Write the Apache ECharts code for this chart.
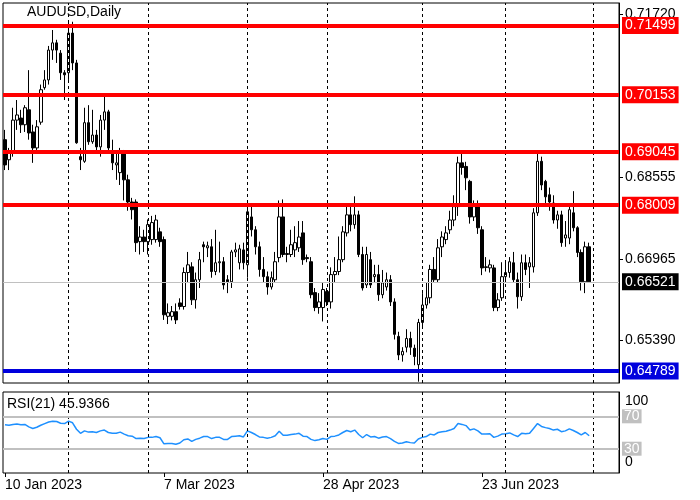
<!DOCTYPE html>
<html><head><meta charset="utf-8">
<script src="https://cdn.jsdelivr.net/npm/echarts@6/dist/echarts.min.js"></script>
<style>html,body{margin:0;padding:0;background:#fff}#c{width:700px;height:500px}</style>
</head><body><div id="c"></div>
<script>
// OHLC per trading day starting 10 Jan 2023
const opens = [.6928,.6889,.6902,.6966,.6970,.6957,.6986,.6943,.6912,.6962,.7029,.7044,.7102,.7116,.7096,.7058,.7058,.7135,.7077,.6895,.6886,.6961,.6924,.6937,.6914,.6966,.6982,.6904,.6879,.6864,.6904,.6850,.6807,.6807,.6730,.6739,
.6730,.6734,.6734,.6749,.6734,.6585,.6585,.6594,.6611,.6604,.6670,.6681,.6617,.6656,.6724,.6718,.6720,.6672,.6689,.6691,.6656,.6652,.6710,.6689,.6714,.6685,.6778,.6753,.6720,.6676,.6662,.6642,.6656,.6699,.6778,.6705,.6705,
.6714,.6718,.6747,.6699,.6691,.6631,.6602,.6602,.6633,.6613,.6666,.6672,.6695,.6747,.6782,.6763,.6782,.6705,.6646,.6695,.6662,.6666,.6627,.6642,.6656,.6613,.6546,.6510,.6525,.6542,.6523,.6491,.6573,.6607,.6621,.6676,.6656,
.6720,.6734,.6753,.6772,.6798,.6883,.6876,.6847,.6778,.6798,.6753,.6681,.6679,.6679,.6602,.6621,.6662,.6670,.6689,.6656,.6623,.6689,.6681,.6681,.6786,.6886,.6847,.6821,.6805,.6772,.6782,.6737,.6737,.6786,.6757,.6709,.6652,.6720];
const closes = [.6879,.6902,.6966,.6976,.6957,.6990,.6941,.6912,.6953,.7025,.7044,.7102,.7116,.7102,.7058,.7054,.7135,.7077,.6922,.6889,.6961,.6924,.6937,.6914,.6966,.6982,.6912,.6883,.6883,.6904,.6850,.6807,.6792,.6728,.6739,.6730,
.6763,.6767,.6772,.6730,.6588,.6592,.6594,.6578,.6604,.6670,.6685,.6617,.6656,.6695,.6720,.6722,.6672,.6689,.6691,.6646,.6652,.6710,.6714,.6716,.6689,.6788,.6753,.6720,.6676,.6662,.6642,.6660,.6691,.6778,.6705,.6707,.6724,
.6728,.6739,.6695,.6697,.6627,.6602,.6613,.6637,.6613,.6666,.6672,.6695,.6749,.6782,.6763,.6782,.6705,.6640,.6705,.6646,.6666,.6627,.6650,.6656,.6613,.6550,.6510,.6517,.6542,.6525,.6507,.6573,.6607,.6621,.6676,.6656,.6718,
.6739,.6747,.6772,.6798,.6883,.6874,.6854,.6778,.6798,.6757,.6679,.6680,.6685,.6602,.6617,.6662,.6670,.6691,.6656,.6623,.6689,.6676,.6689,.6786,.6886,.6840,.6817,.6807,.6772,.6782,.6728,.6743,.6792,.6757,.6709,.6652,.6720,.6652];
const highs = [.6947,.6912,.6990,.7005,.6986,.6995,.7063,.6957,.6966,.7035,.7063,.7110,.7141,.7122,.7102,.7063,.7158,.7157,.7083,.6912,.6990,.6995,.6986,.6947,.6976,.7015,.6986,.6928,.6904,.6912,.6908,.6860,.6815,.6812,.6760,.6753,
.6773,.6780,.6782,.6757,.6740,.6610,.6605,.6610,.6620,.6680,.6710,.6690,.6670,.6710,.6730,.6730,.6735,.6753,.6730,.6700,.6665,.6714,.6728,.6724,.6728,.6795,.6800,.6760,.6730,.6700,.6672,.6672,.6710,.6810,.6812,.6720,.6753,
.6760,.6770,.6770,.6705,.6700,.6640,.6630,.6650,.6640,.6680,.6700,.6740,.6760,.6800,.6800,.6818,.6790,.6720,.6720,.6710,.6685,.6685,.6675,.6670,.6665,.6620,.6555,.6525,.6560,.6555,.6530,.6580,.6630,.6650,.6685,.6700,.6735,
.6750,.6760,.6790,.6820,.6895,.6904,.6885,.6850,.6810,.6810,.6760,.6700,.6695,.6685,.6630,.6690,.6690,.6700,.6710,.6670,.6705,.6705,.6700,.6795,.6905,.6895,.6850,.6835,.6820,.6790,.6790,.6770,.6800,.6828,.6760,.6715,.6730,.6728];
const lows = [.6869,.6869,.6895,.6947,.6941,.6943,.6928,.6883,.6908,.6957,.7025,.7035,.7083,.7077,.7044,.7005,.7044,.7063,.6920,.6869,.6883,.6918,.6920,.6906,.6895,.6947,.6904,.6869,.6850,.6840,.6810,.6790,.6773,.6710,.6705,.6710,
.6705,.6724,.6728,.6720,.6578,.6570,.6577,.6570,.6598,.6598,.6650,.6607,.6600,.6640,.6690,.6700,.6660,.6665,.6670,.6637,.6630,.6640,.6700,.6676,.6676,.6660,.6740,.6705,.6662,.6650,.6627,.6637,.6650,.6690,.6700,.6690,.6700,
.6700,.6710,.6685,.6690,.6620,.6595,.6590,.6575,.6605,.6600,.6650,.6665,.6690,.6740,.6750,.6755,.6700,.6635,.6640,.6640,.6650,.6615,.6620,.6635,.6605,.6540,.6500,.6497,.6515,.6510,.6490,.6458,.6565,.6600,.6610,.6650,.6650,
.6700,.6725,.6745,.6760,.6780,.6860,.6830,.6765,.6770,.6745,.6665,.6672,.6670,.6595,.6595,.6615,.6650,.6660,.6650,.6600,.6615,.6665,.6640,.6670,.6780,.6830,.6800,.6790,.6765,.6755,.6720,.6720,.6725,.6750,.6700,.6635,.6630,.6650];
const rsi = [59.5,59,60,60.5,59.5,60,57,55,56.5,59,61,
63,64,63.5,61.5,61,64,62,54,49,
52,50.5,51,50,52,53,50,49,49,50.5,48,46,45.5,42.5,43,42.5,
44,44,45,43.5,36,36.5,36.5,35.5,37,41,42,39,41.5,43,
45,45,42.5,44,44,41.5,41.5,45,45.5,46,44.5,
52,50,47.5,44.5,44,43,44,46,51.5,46.5,46.5,47.5,
48,49,45.5,45,41.5,40,41,42.5,41.5,45,45.5,47,50,
52.5,51,53,47.5,43.5,47.5,44.5,45,43,44.5,45,42.5,
39,36.5,37,38.5,37.5,37,42,44,45,48,47,50,
51,51.5,53,55,61,60,58.5,53,54.5,52,48,48,
48.5,44,45.5,48,48.5,49.5,47,45,49,48.5,49,55,
61,57.5,56,55,53,54,51,52,54.5,52.5,50,47,50,45.9366];
const tickIdx = [0,40,80,120];
const tickLabels = ['10 Jan 2023','7 Mar 2023','28 Apr 2023','23 Jun 2023'];
const priceTicks = [0.7172,0.68555,0.66965,0.6539];
const redLevels = [0.71499,0.70153,0.69045,0.68009];
const blueLevel = 0.64789;
const lastPrice = 0.66521;
const gridIdx = [16,36,61,81,105,126,148];
const pad = 7;

const N = closes.length + pad;
const cats = Array.from({length:N},(_, i)=>String(i));
const ohlc = closes.map((c,i)=>[opens[i],c,lows[i],highs[i]]);
const FONT = '"Liberation Sans", Arial, sans-serif';
const vlines = gridIdx.map(i=>({xAxis:String(i)}));
const boxLabel = (bg, fg) => ({show:true, position:'end', distance:3, formatter:p=>Number(p.value).toFixed(5),
  backgroundColor:bg, color:fg, fontSize:14, fontFamily:FONT, padding:[2,3,1,3]});

const chart = echarts.init(document.getElementById('c'), null, {renderer:'canvas'});
chart.setOption({
  animation:false,
  backgroundColor:'#fff',
  grid:[{left:3,right:81,top:3,height:380,show:true,borderColor:'#000',borderWidth:1},
        {left:3,right:81,top:392,height:81,show:true,borderColor:'#000',borderWidth:1}],
  xAxis:[{type:'category',gridIndex:0,data:cats,boundaryGap:true,axisLine:{show:false},axisTick:{show:false},axisLabel:{show:false},splitLine:{show:false}},
         {type:'category',gridIndex:1,data:cats,boundaryGap:true,axisLine:{show:false},
          axisTick:{show:true,alignWithLabel:true,interval:(i)=>tickIdx.includes(i),length:4,lineStyle:{color:'#000'}},
          axisLabel:{interval:(i)=>tickIdx.includes(i),formatter:(v,i)=>tickLabels[tickIdx.indexOf(Number(v))]||'',align:'left',margin:5,fontSize:14,fontFamily:FONT,color:'#000'},
          splitLine:{show:false}}],
  yAxis:[{type:'value',gridIndex:0,position:'right',min:0.64555,max:0.71934,scale:true,
          axisLine:{show:true,lineStyle:{color:'#000'}},splitLine:{show:false},
          axisTick:{show:true,customValues:priceTicks,length:4,lineStyle:{color:'#000'}},
          axisLabel:{customValues:priceTicks,formatter:v=>v.toFixed(5),fontSize:14,fontFamily:FONT,color:'#000',margin:6}},
         {type:'value',gridIndex:1,position:'right',min:0,max:100,
          axisLine:{show:true,lineStyle:{color:'#000'}},splitLine:{show:false},axisTick:{show:false},axisLabel:{show:false}}],
  graphic:[
    {type:'text',left:27,top:5,z:100,style:{text:'AUDUSD,Daily',fontSize:14,fontFamily:FONT,fill:'#000'}},
    {type:'text',left:7,top:397,z:100,style:{text:'RSI(21) 45.9366',fontSize:14,fontFamily:FONT,fill:'#000'}},
    {type:'text',left:625,top:394,z:100,style:{text:'100',fontSize:14,fontFamily:FONT,fill:'#000'}},
    {type:'text',left:625,top:455,z:100,style:{text:'0',fontSize:14,fontFamily:FONT,fill:'#000'}}
  ],
  series:[
    {type:'candlestick',xAxisIndex:0,yAxisIndex:0,data:ohlc,barWidth:3,
     itemStyle:{color:'#fff',color0:'#000',borderColor:'#000',borderColor0:'#000',borderWidth:1},
     markLine:{silent:true,symbol:'none',animation:false,precision:5,
       data:[
         ...vlines.map(v=>Object.assign({},v,{lineStyle:{color:'#000',type:[3,3],width:1},label:{show:false}})),
         {yAxis:lastPrice,lineStyle:{color:'#c0c0c0',type:'solid',width:1},label:boxLabel('#000','#fff')},
         ...redLevels.map(v=>({yAxis:v,lineStyle:{color:'#ff0000',type:'solid',width:4},label:boxLabel('#ff0000','#fff')})),
         {yAxis:blueLevel,lineStyle:{color:'#0000dd',type:'solid',width:4},label:boxLabel('#0000dd','#fff')}
       ]}},
    {type:'line',xAxisIndex:1,yAxisIndex:1,data:rsi,symbol:'none',lineStyle:{color:'#1e90ff',width:1.5},
     markLine:{silent:true,symbol:'none',animation:false,
       data:[
         ...vlines.map(v=>Object.assign({},v,{lineStyle:{color:'#000',type:[3,3],width:1},label:{show:false}})),
         {yAxis:70,lineStyle:{color:'#c0c0c0',type:'solid',width:2},label:{show:true,position:'end',distance:3,formatter:'70',backgroundColor:'#c0c0c0',color:'#fff',fontSize:14,fontFamily:FONT,padding:[0,2]}},
         {yAxis:30,lineStyle:{color:'#c0c0c0',type:'solid',width:2},label:{show:true,position:'end',distance:3,formatter:'30',backgroundColor:'#c0c0c0',color:'#fff',fontSize:14,fontFamily:FONT,padding:[0,2]}}
       ]}}
  ]
});
</script></body></html>
